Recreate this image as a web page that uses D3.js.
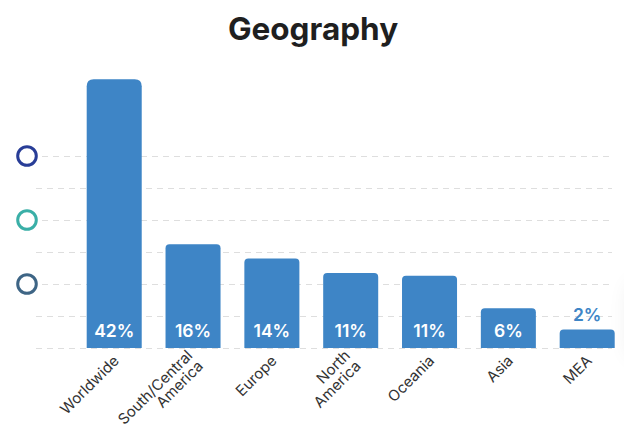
<!DOCTYPE html>
<html>
<head>
<meta charset="utf-8">
<script src="https://cdn.jsdelivr.net/npm/d3@7/dist/d3.min.js"></script>
<style>
  html, body { margin: 0; padding: 0; background: #fff; }
  svg { display: block; }
</style>
</head>
<body>
<svg id="chart" width="624" height="431"></svg>
<script>
const categories = ["Worldwide", "South/Central\nAmerica", "Europe", "North\nAmerica", "Oceania", "Asia", "MEA"];
const shares = [42.0, 16.2, 14.0, 11.7, 11.3, 6.2, 2.9];
const gridTicks = [0, 5, 10, 15, 20, 25, 30];
const markerTicks = [30, 20, 10];
const markerColors = ["#283d97", "#3aafa7", "#3e6585"];

const W = 624, H = 431;
const svg = d3.select("#chart");
const barColor = "#3e85c6";
const font = "Inter, 'Open Sans', sans-serif";

const x = d3.scaleBand().domain(categories).range([86.7, 614.7]).paddingInner(0.302).paddingOuter(0);
const y = d3.scaleLinear().domain([0, 30]).range([348, 156]);

// soft shadow on right edge
const defs = svg.append("defs");
const f = defs.append("filter").attr("id", "blur").attr("x", "-100%").attr("y", "-100%").attr("width", "300%").attr("height", "300%");
f.append("feGaussianBlur").attr("stdDeviation", 12);
svg.append("rect").attr("x", 632).attr("y", 285).attr("width", 60).attr("height", 70)
  .attr("fill", "#000").attr("opacity", 0.1).attr("filter", "url(#blur)");

// title
svg.append("text").attr("x", W / 2 + 1).attr("y", 40).attr("text-anchor", "middle")
  .attr("font-family", font).attr("font-weight", 700).attr("font-size", 31.5)
  .attr("fill", "#1f1f1f").text("Geography");

// gridlines
const grid = svg.append("g");
grid.selectAll("line").data(gridTicks).join("line")
  .attr("x1", d => markerTicks.includes(d) ? 42 : 36)
  .attr("x2", 612)
  .attr("y1", d => y(d) + 0.5).attr("y2", d => y(d) + 0.5)
  .attr("stroke", "#dedede").attr("stroke-width", 1)
  .attr("stroke-dasharray", "6,5");

// markers
svg.append("g").selectAll("circle").data(markerTicks).join("circle")
  .attr("cx", 27).attr("cy", d => y(d))
  .attr("r", 9.3).attr("fill", "#fff")
  .attr("stroke", (d, i) => markerColors[i]).attr("stroke-width", 3);

// bars with rounded top corners
function barPath(x0, y0, w, h, r) {
  r = Math.min(r, h, w / 2);
  return `M${x0},${y0 + h}V${y0 + r}Q${x0},${y0} ${x0 + r},${y0}H${x0 + w - r}Q${x0 + w},${y0} ${x0 + w},${y0 + r}V${y0 + h}Z`;
}
const data = categories.map((c, i) => ({ c, v: shares[i] }));
svg.append("g").selectAll("path").data(data).join("path")
  .attr("d", d => barPath(x(d.c), y(d.v), x.bandwidth(), y(0) - y(d.v), d.v > 30 ? 7 : 4))
  .attr("fill", barColor);

// value labels
svg.append("g").selectAll("text").data(data).join("text")
  .attr("x", d => x(d.c) + x.bandwidth() / 2)
  .attr("y", d => (y(0) - y(d.v)) > 30 ? y(0) - 11 : y(d.v) - 8)
  .attr("text-anchor", "middle")
  .attr("font-family", font).attr("font-weight", 600).attr("font-size", 17.5)
  .attr("fill", d => (y(0) - y(d.v)) > 30 ? "#fff" : barColor)
  .text(d => Math.floor(d.v) + "%");

// axis labels
const lab = svg.append("g").selectAll("text").data(data).join("text")
  .attr("transform", d => `translate(${x(d.c) + x.bandwidth() / 2 + 2},${358}) rotate(-45)`)
  .attr("text-anchor", "end")
  .attr("font-family", font).attr("font-size", 15).attr("fill", "#333");
lab.each(function (d) {
  const lines = d.c.split("\n");
  const t = d3.select(this);
  lines.forEach((ln, i) => {
    t.append("tspan").attr("x", 0)
      .attr("dy", i === 0 ? (lines.length > 1 ? "-0.15em" : "0.35em") : "1.0em")
      .text(ln);
  });
});
</script>
</body>
</html>
